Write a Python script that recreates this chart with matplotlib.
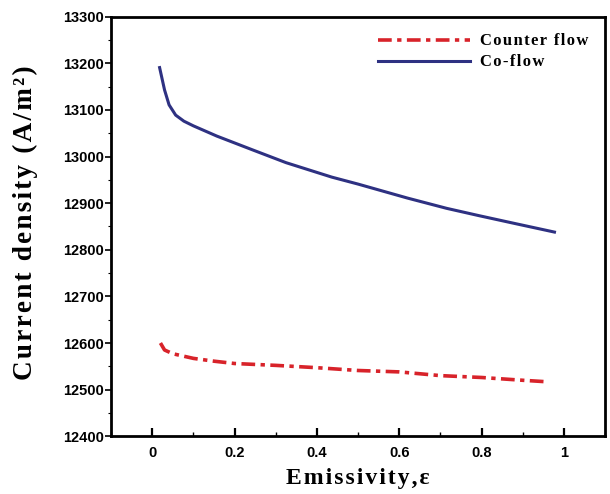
import numpy as np
import matplotlib
matplotlib.use('Agg')
import matplotlib.pyplot as plt
from matplotlib.ticker import MultipleLocator

# emissivity vs current density
eps_co = [0.018, 0.03, 0.041, 0.057, 0.077, 0.10, 0.157, 0.245, 0.325, 0.436,
          0.50, 0.62, 0.715, 0.795, 0.883, 0.977]
j_co = [13191, 13143, 13111, 13089, 13076, 13066, 13044, 13014, 12987, 12956,
        12941, 12911, 12889, 12873, 12856, 12838]

eps_counter = [0.02, 0.03, 0.05, 0.10, 0.15, 0.2, 0.3, 0.4, 0.5, 0.6, 0.7, 0.8, 0.9, 0.955]
j_counter = [12600, 12585, 12577, 12567, 12561, 12556, 12552, 12547, 12541, 12538,
             12530, 12526, 12520, 12517]

serif = ['Liberation Serif', 'DejaVu Serif']
sans = ['Liberation Sans', 'DejaVu Sans']


def spaced(s, gap='\u200a'):
    # widen the lettering a bit, like the original Origin export
    return gap.join(s)


fig = plt.figure(figsize=(6.10, 4.94), dpi=100)
ax = fig.add_axes([0.182, 0.117, 0.810, 0.849])

ax.plot(eps_counter, j_counter, color='#d8232a', lw=2.6, ls=(0, (3.8, 1.5, 1.2, 1.5)),
        label=spaced('Counter flow'))
ax.plot(eps_co, j_co, color='#2e3182', lw=2.2, label=spaced('Co-flow'))

ax.set_xlim(-0.1, 1.1)
ax.set_ylim(12400, 13300)
ax.xaxis.set_minor_locator(MultipleLocator(0.1))
ax.yaxis.set_major_locator(MultipleLocator(100))
ax.yaxis.set_minor_locator(MultipleLocator(50))
ax.set_xticks([0, 0.2, 0.4, 0.6, 0.8, 1.0])
ax.set_xticklabels(['0', '0.2', '0.4', '0.6', '0.8', '1'])

ax.tick_params(axis='x', which='major', direction='in', length=6, width=1.6, pad=7)
ax.tick_params(axis='x', which='minor', direction='in', length=3, width=1.0)
ax.tick_params(axis='y', which='major', direction='out', length=4, width=1.2, pad=1)
ax.tick_params(axis='y', which='minor', direction='out', length=2, width=0.8)
for lab in ax.get_xticklabels() + ax.get_yticklabels():
    lab.set_family(sans)
    lab.set_fontsize(10.5)
    lab.set_fontweight('bold')

for sp in ax.spines.values():
    sp.set_linewidth(2.0)

ax.set_xlabel(spaced('Emissivity,ε'), family=serif, fontsize=17, fontweight='bold',
              labelpad=6)
ax.set_ylabel(spaced('Current density (A/m²)'), family=serif, fontsize=19.5,
              fontweight='bold', labelpad=5)
ax.yaxis.set_label_coords(-0.147, 0.51)

leg = ax.legend(loc='upper right', frameon=False, handlelength=5.5,
                prop={'family': serif, 'weight': 'bold', 'size': 12},
                borderaxespad=0.6, labelspacing=0.3, handletextpad=0.6)

fig.savefig('out.png', dpi=100)
